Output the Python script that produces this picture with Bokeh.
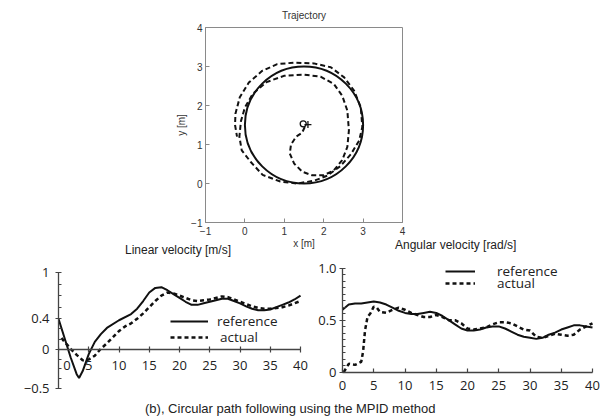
from bokeh.plotting import figure
from bokeh.layouts import column, row
from bokeh.models import Range1d, FixedTicker, Legend, LegendItem, Div
from bokeh.embed import file_html
from bokeh.resources import INLINE

# ---------------- data ----------------
# Trajectory (top)
ref_circle_x = [1.5]
ref_circle_y = [1.5]
ref_circle_d = [3.0]
act_traj_x = [1.52, 1.45, 1.30, 1.17, 1.14, 1.25, 1.46, 1.71, 2.00, 2.26, 2.47, 2.60, 2.64, 2.60,
              2.47, 2.26, 1.92, 1.50, 0.99, 0.55, 0.20, 0.00, -0.10, -0.14, -0.08, 0.15, 0.45,
              0.90, 1.33, 1.75, 2.09, 2.43, 2.69, 2.90, 2.98, 2.94, 2.77, 2.52, 2.18, 1.75, 1.25,
              0.82, 0.44, 0.10, -0.13, -0.24, -0.25, -0.20]
act_traj_y = [1.45, 1.30, 1.20, 1.00, 0.77, 0.51, 0.30, 0.21, 0.21, 0.34, 0.60, 0.94, 1.36, 1.87,
              2.25, 2.55, 2.74, 2.79, 2.76, 2.60, 2.30, 1.95, 1.60, 1.20, 0.85, 0.55, 0.22,
              0.05, 0.00, 0.07, 0.20, 0.45, 0.75, 1.10, 1.45, 1.96, 2.38, 2.72, 2.98, 3.08, 3.10,
              3.06, 2.89, 2.59, 2.21, 1.79, 1.50, 1.20]
start_x = [1.48]
start_y = [1.53]
goal_x = [1.60]
goal_y = [1.51]
traj_ticks = [-1, 0, 1, 2, 3, 4]

# Linear velocity (bottom left)
lin_t_ref = [0, 1, 2, 3, 3.4, 4, 5, 6, 7, 8, 10, 12, 13, 14, 15, 16, 17, 18, 19, 20, 21, 22, 23,
             24, 25, 26, 27, 28, 29, 30, 31, 32, 33, 34, 35, 36, 37, 38, 39, 40]
lin_v_ref = [0.40, 0.15, -0.10, -0.32, -0.37, -0.28, -0.06, 0.10, 0.20, 0.28, 0.38, 0.46, 0.53,
             0.63, 0.74, 0.80, 0.81, 0.77, 0.72, 0.67, 0.62, 0.58, 0.58, 0.60, 0.62, 0.64, 0.66,
             0.66, 0.63, 0.60, 0.56, 0.53, 0.51, 0.51, 0.52, 0.55, 0.58, 0.61, 0.65, 0.70]
lin_t_act = [0.5, 1, 2, 3, 4, 5, 6, 7, 8, 9, 10, 11, 12, 13, 14, 15, 16, 17, 18, 19, 20, 21, 22,
             23, 24, 25, 26, 27, 28, 29, 30, 31, 32, 33, 34, 35, 36, 37, 38, 39, 40]
lin_v_act = [0.15, 0.10, 0.01, -0.07, -0.14, -0.13, -0.08, 0.01, 0.08, 0.16, 0.24, 0.30, 0.34,
             0.40, 0.47, 0.55, 0.63, 0.70, 0.74, 0.73, 0.70, 0.67, 0.64, 0.63, 0.64, 0.65, 0.67,
             0.69, 0.68, 0.65, 0.62, 0.59, 0.56, 0.54, 0.53, 0.53, 0.54, 0.55, 0.57, 0.60, 0.63]
lin_x_ticks = [0, 5, 10, 15, 20, 25, 30, 35, 40]
lin_y_ticks = [-0.5, 0, 0.4, 1]
lin_y_minor = [-0.375, -0.25, -0.125, 0.133, 0.267, 0.55, 0.7, 0.85]

# Angular velocity (bottom right)
ang_t_ref = [0, 1, 2, 3, 4, 5, 6, 7, 8, 9, 10, 11, 12, 13, 14, 15, 16, 17, 18, 19, 20, 21, 22,
             23, 24, 25, 26, 27, 28, 29, 30, 31, 32, 33, 34, 35, 36, 37, 38, 39, 40]
ang_w_ref = [0.60, 0.65, 0.66, 0.66, 0.67, 0.68, 0.67, 0.65, 0.62, 0.59, 0.57, 0.56, 0.56, 0.57,
             0.58, 0.57, 0.54, 0.50, 0.46, 0.42, 0.40, 0.40, 0.41, 0.43, 0.44, 0.44, 0.42, 0.39,
             0.36, 0.34, 0.33, 0.32, 0.33, 0.36, 0.38, 0.41, 0.43, 0.45, 0.45, 0.44, 0.43]
ang_t_act = [0.2, 1, 2, 3, 3.3, 3.6, 4, 4.5, 5, 5.5, 6, 7, 8, 9, 10, 11, 12, 13, 14, 15, 16, 17,
             18, 19, 20, 21, 22, 23, 24, 25, 26, 27, 28, 29, 30, 31, 32, 33, 34, 35, 36, 37, 38,
             39, 40]
ang_w_act = [0.00, 0.08, 0.07, 0.10, 0.20, 0.40, 0.53, 0.57, 0.63, 0.62, 0.58, 0.57, 0.60, 0.62,
             0.60, 0.57, 0.55, 0.53, 0.53, 0.55, 0.53, 0.50, 0.50, 0.47, 0.42, 0.41, 0.42, 0.43,
             0.46, 0.48, 0.48, 0.47, 0.44, 0.41, 0.40, 0.34, 0.33, 0.35, 0.37, 0.36, 0.35, 0.36,
             0.41, 0.44, 0.47]
ang_x_ticks = [0, 5, 10, 15, 20, 25, 30, 35, 40]
ang_y_ticks = [0, 0.5, 1.0]
ang_y_minor = [0.0625, 0.125, 0.1875, 0.25, 0.3125, 0.375, 0.4375,
               0.5625, 0.625, 0.6875, 0.75, 0.8125, 0.875, 0.9375]

TOP_FONT = "Liberation Sans"
BOT_FONT = "Open Sans"
INK = "#111111"

# ---------------- top: trajectory ----------------
traj = figure(width=604, height=252, x_range=Range1d(-1, 4), y_range=Range1d(-1, 4),
              output_backend="svg", toolbar_location=None, title="Trajectory",
              min_border_left=205, min_border_right=202, min_border_top=27, min_border_bottom=30)
traj.title.align = "center"
traj.title.text_font = TOP_FONT
traj.title.text_font_size = "10px"
traj.title.text_font_style = "normal"
traj.title.text_color = "#333333"
traj.title.standoff = 13
traj.grid.visible = False
traj.outline_line_color = "#8a8a8a"
for ax in (traj.xaxis[0], traj.yaxis[0]):
    ax.ticker = FixedTicker(ticks=traj_ticks)
    ax.axis_line_color = "#8a8a8a"
    ax.major_tick_line_color = "#8a8a8a"
    ax.major_tick_in = 4
    ax.major_tick_out = 0
    ax.minor_tick_line_color = None
    ax.major_label_text_font = TOP_FONT
    ax.major_label_text_font_size = "10px"
    ax.major_label_text_color = "#333333"
    ax.axis_label_text_font = TOP_FONT
    ax.axis_label_text_font_size = "10px"
    ax.axis_label_text_font_style = "normal"
    ax.axis_label_text_color = "#333333"
traj.xaxis.axis_label = "x [m]"
traj.yaxis.axis_label = "y [m]"
traj.xaxis.major_label_standoff = 4
traj.xaxis.axis_label_standoff = 0
traj.yaxis.major_label_standoff = 3
traj.yaxis.axis_label_standoff = 1

traj.ellipse(x=ref_circle_x, y=ref_circle_y, width=ref_circle_d, height=ref_circle_d,
             fill_color=None, line_color=INK, line_width=2)
traj.line(act_traj_x, act_traj_y, line_color=INK, line_width=2, line_dash="5 3")
traj.scatter(start_x, start_y, marker="circle", size=6, fill_color=None, line_color=INK,
             line_width=1.3)
traj.scatter(goal_x, goal_y, marker="cross", size=7, line_color=INK, line_width=1.3)

# panel titles of the two lower plots (real text, positioned with CSS)
titles = Div(text='<div style="position: relative; width: 604px; height: 20px; '
                  'font-family: \'Liberation Sans\', Arial, sans-serif; font-size: 12px; '
                  'line-height: 12px; color: #222; white-space: nowrap;">'
                  '<span style="position: absolute; left: 125px; top: 10px;">'
                  'Linear velocity [m/s]</span>'
                  '<span style="position: absolute; left: 395px; top: 5px;">'
                  'Angular velocity [rad/s]</span></div>',
             width=604, height=20, margin=(-18, 0, 0, 0))


def style_axis(ax):
    ax.axis_line_color = "#444444"
    ax.axis_line_width = 1.3
    ax.major_tick_line_color = "#444444"
    ax.major_tick_line_width = 1.2
    ax.minor_tick_line_color = "#444444"
    ax.minor_tick_line_width = 1.0
    ax.major_label_text_font = BOT_FONT
    ax.major_label_text_font_size = "13px"
    ax.major_label_text_color = "#222222"


def add_legend(p, renderer, label, x, y, gw, standoff):
    leg = Legend(items=[LegendItem(label=label, renderers=[renderer])], location=(x, y),
                 orientation="vertical", padding=0, margin=0, spacing=0,
                 glyph_width=gw, glyph_height=20, label_height=20, label_standoff=standoff,
                 border_line_color=None, background_fill_alpha=0,
                 label_text_font=BOT_FONT, label_text_font_size="13.5px",
                 label_text_color="#222222")
    p.add_layout(leg)


# The two lower plots share frame top (y=258) and bottom (y=396) in the row.
# ---------------- bottom left: linear velocity ----------------
lin = figure(width=314, height=165, x_range=Range1d(0, 42.31), y_range=Range1d(-0.610, 1.182),
             output_backend="svg", toolbar_location=None,
             min_border_left=58, min_border_right=0, min_border_top=4, min_border_bottom=23,
             border_fill_color=None, background_fill_color=None)
lin.grid.visible = False
lin.outline_line_color = None
lin.xaxis.fixed_location = 0
lin.xaxis.ticker = FixedTicker(ticks=lin_x_ticks)
lin.xaxis.bounds = (0, 40)
lin.xaxis.major_tick_in = 3
lin.xaxis.major_tick_out = 3
lin.xaxis.major_label_standoff = 3
lin.xaxis.major_label_overrides = {0: "\u00a0\u00a0\u00a0\u00a0\u00a00"}
lin.yaxis.ticker = FixedTicker(ticks=lin_y_ticks, minor_ticks=lin_y_minor)
lin.yaxis.bounds = (-0.5, 1)
lin.yaxis.major_tick_in = 3
lin.yaxis.major_tick_out = 3
lin.yaxis.minor_tick_in = 3
lin.yaxis.minor_tick_out = 0
lin.yaxis.major_label_standoff = 6
lin.yaxis.major_label_overrides = {0: "0", 1: "1"}
style_axis(lin.xaxis[0])
style_axis(lin.yaxis[0])

r_lin_ref = lin.line(lin_t_ref, lin_v_ref, line_color=INK, line_width=2)
r_lin_act = lin.line(lin_t_act, lin_v_act, line_color=INK, line_width=2.5, line_dash="4 3")
add_legend(lin, r_lin_ref, "reference", 112, 65, 38, 9)
add_legend(lin, r_lin_act, "actual", 112, 49, 38, 12)

# ---------------- bottom right: angular velocity ----------------
# frame spans the whole width of this figure; both axes sit at the data origin
ang = figure(width=290, height=165, x_range=Range1d(-4.48, 41.28), y_range=Range1d(-0.234, 1.093),
             output_backend="svg", toolbar_location=None,
             min_border_left=0, min_border_right=4, min_border_top=4, min_border_bottom=23,
             border_fill_color=None, background_fill_color=None)
ang.grid.visible = False
ang.outline_line_color = None
ang.xaxis.fixed_location = 0
ang.xaxis.ticker = FixedTicker(ticks=ang_x_ticks)
ang.xaxis.bounds = (0, 40)
ang.xaxis.major_tick_in = 4
ang.xaxis.major_tick_out = 0
ang.xaxis.major_label_standoff = 9
ang.yaxis.fixed_location = 0
ang.yaxis.ticker = FixedTicker(ticks=ang_y_ticks, minor_ticks=ang_y_minor)
ang.yaxis.bounds = (0, 1)
ang.yaxis.major_tick_in = 3
ang.yaxis.major_tick_out = 3
ang.yaxis.minor_tick_in = 3
ang.yaxis.minor_tick_out = 0
ang.yaxis.major_label_standoff = 3
ang.yaxis.major_label_overrides = {0: "0", 0.5: "0.5", 1: "1.0"}
style_axis(ang.xaxis[0])
style_axis(ang.yaxis[0])

r_ang_ref = ang.line(ang_t_ref, ang_w_ref, line_color=INK, line_width=2)
r_ang_act = ang.line(ang_t_act, ang_w_act, line_color=INK, line_width=2.5, line_dash="4 3")
add_legend(ang, r_ang_ref, "reference", 131, 115, 30, 22)
add_legend(ang, r_ang_act, "actual", 131, 103, 30, 22)

caption = Div(text='<div style="font-family: \'Liberation Sans\', Arial, sans-serif; '
                   'font-size: 13px; line-height: 14px; padding-left: 145px; '
                   'color: #222; white-space: nowrap;">(b), Circular path following using the '
                   'MPID method</div>',
              width=604, height=14, margin=(-18, 0, 0, 0))

bottom = row(lin, ang, spacing=0)
layout = column(traj, titles, bottom, caption, spacing=0)

with open("out.html", "w") as f:
    f.write(file_html(layout, INLINE))
